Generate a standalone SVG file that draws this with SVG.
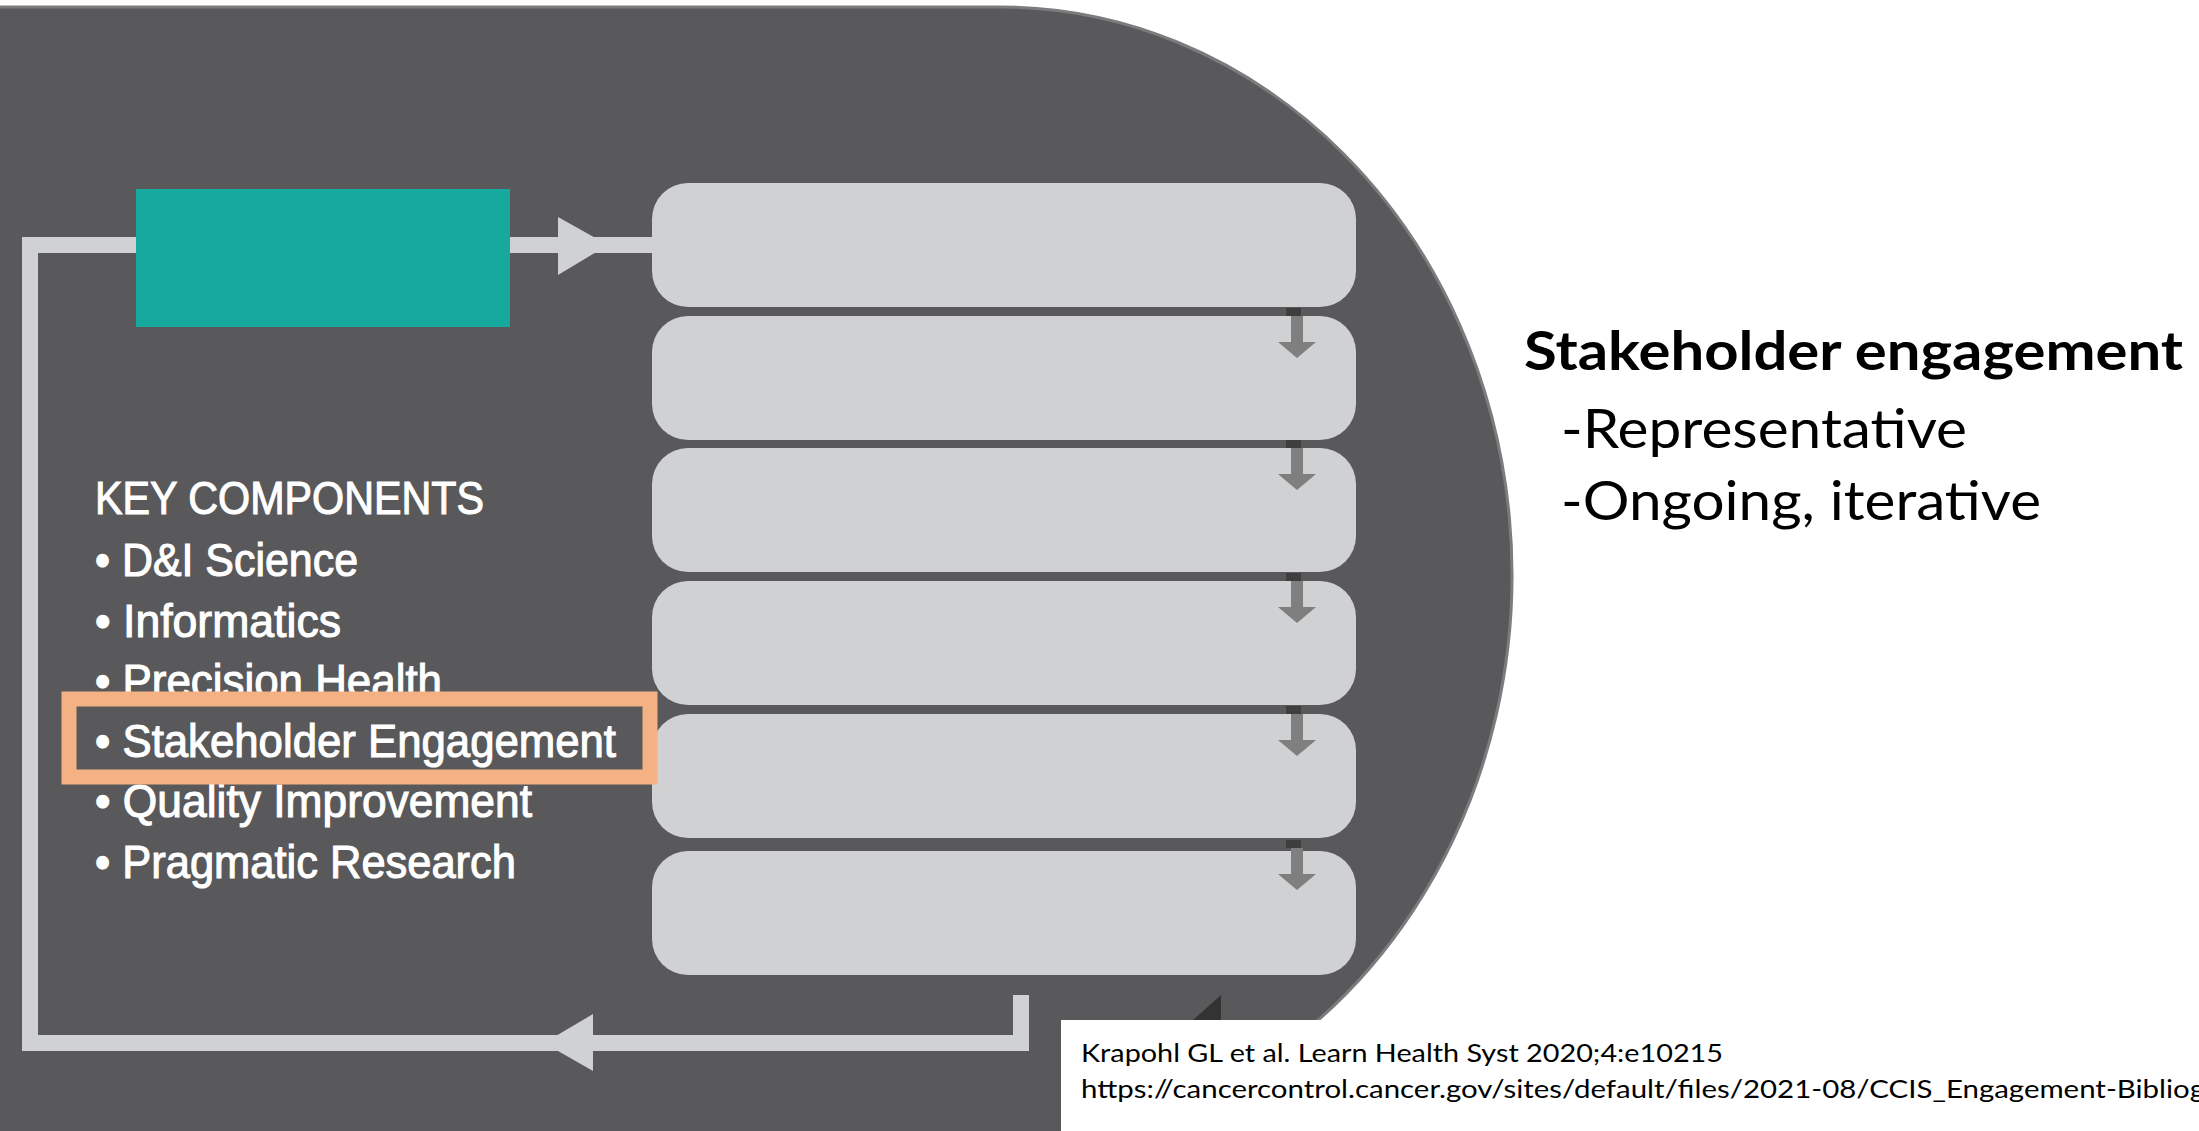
<svg xmlns="http://www.w3.org/2000/svg" width="2199" height="1131" viewBox="0 0 2199 1131">
<style>
.bg{fill:#59595b}
.step{fill:#d0d1d3}
.kc{font-family:"Liberation Sans",Arial,sans-serif;font-size:47px;fill:#ffffff;stroke:#ffffff;stroke-width:1.1}
.side{font-family:Lato,"Open Sans","Liberation Sans",sans-serif;fill:#000000}
.conn{fill:none;stroke:#d0d1d3;stroke-width:16;stroke-linejoin:miter}
.head{fill:#d0d1d3}
</style>
<defs>
<g id="darr">
<rect x="1286" y="0" width="15" height="8" fill="#3e3e3e"/>
<rect x="1291" y="8" width="12" height="26" fill="#7f7f7f"/>
<polygon points="1278,34 1316,34 1297,50" fill="#7f7f7f"/>
</g>
</defs>
<rect width="2199" height="1131" fill="#ffffff"/>
<g id="background">
<path class="bg" d="M0,7 H1000 A512,568 0 0 1 1104.7,1131 H0 Z"/>
<path d="M0,7 H1000 A512,568 0 0 1 1104.7,1131" fill="none" stroke="#7c7c7e" stroke-width="3"/>
</g>
<g id="connectors">
<path class="conn" d="M1021,995 V1043 H30 V245 H652"/>
<polygon class="head" points="558,217 608,245 558,275"/>
<polygon class="head" points="544,1043 593,1014 593,1071"/>
<polygon points="1221,995 1221,1020 1193,1020" fill="#333333"/>
</g>
<g id="start-node">
<rect x="136" y="189" width="374" height="138" fill="#17a89e"/>
</g>
<g id="steps">
<g id="step1"><rect class="step" x="652" y="183" width="704" height="124" rx="36" ry="36"/></g>
<g id="step2"><rect class="step" x="652" y="316" width="704" height="124" rx="36" ry="36"/></g>
<g id="step3"><rect class="step" x="652" y="448" width="704" height="124" rx="36" ry="36"/></g>
<g id="step4"><rect class="step" x="652" y="581" width="704" height="124" rx="36" ry="36"/></g>
<g id="step5"><rect class="step" x="652" y="714" width="704" height="124" rx="36" ry="36"/></g>
<g id="step6"><rect class="step" x="652" y="851" width="704" height="124" rx="36" ry="36"/></g>
</g>
<g id="step-arrows">
<use href="#darr" transform="translate(0,308)"/>
<use href="#darr" transform="translate(0,440)"/>
<use href="#darr" transform="translate(0,573)"/>
<use href="#darr" transform="translate(0,706)"/>
<use href="#darr" transform="translate(0,840)"/>
</g>
<g id="key-components">
<text class="kc" x="95" y="514" textLength="389" lengthAdjust="spacingAndGlyphs">KEY COMPONENTS</text>
<text class="kc" x="95" y="576" textLength="263" lengthAdjust="spacingAndGlyphs">• D&amp;I Science</text>
<text class="kc" x="95" y="637" textLength="246" lengthAdjust="spacingAndGlyphs">• Informatics</text>
<text class="kc" x="95" y="697" textLength="347" lengthAdjust="spacingAndGlyphs">• Precision Health</text>
<text class="kc" x="95" y="817" textLength="437" lengthAdjust="spacingAndGlyphs">• Quality Improvement</text>
<text class="kc" x="95" y="878" textLength="421" lengthAdjust="spacingAndGlyphs">• Pragmatic Research</text>
</g>
<g id="highlight">
<rect x="69" y="699" width="581" height="78" fill="#59595b" stroke="#f4b183" stroke-width="15"/>
<text class="kc" x="95" y="757" textLength="521" lengthAdjust="spacingAndGlyphs">• Stakeholder Engagement</text>
</g>
<g id="notes">
<text class="side" x="1524" y="370" font-size="54" font-weight="bold" textLength="659" lengthAdjust="spacingAndGlyphs">Stakeholder engagement</text>
<text class="side" x="1561" y="448" font-size="54" textLength="406" lengthAdjust="spacingAndGlyphs">-Representative</text>
<text class="side" x="1561" y="520" font-size="54" textLength="480" lengthAdjust="spacingAndGlyphs">-Ongoing, iterative</text>
</g>
<g id="citation">
<rect x="1061" y="1020" width="1138" height="111" fill="#ffffff"/>
<text class="side" x="1081" y="1062" font-size="25" textLength="642" lengthAdjust="spacingAndGlyphs">Krapohl GL et al. Learn Health Syst 2020;4:e10215</text>
<text class="side" x="1081" y="1098" font-size="25" textLength="1124" lengthAdjust="spacingAndGlyphs">https://cancercontrol.cancer.gov/sites/default/files/2021-08/CCIS_Engagement-Bibliog</text>
</g>
</svg>
